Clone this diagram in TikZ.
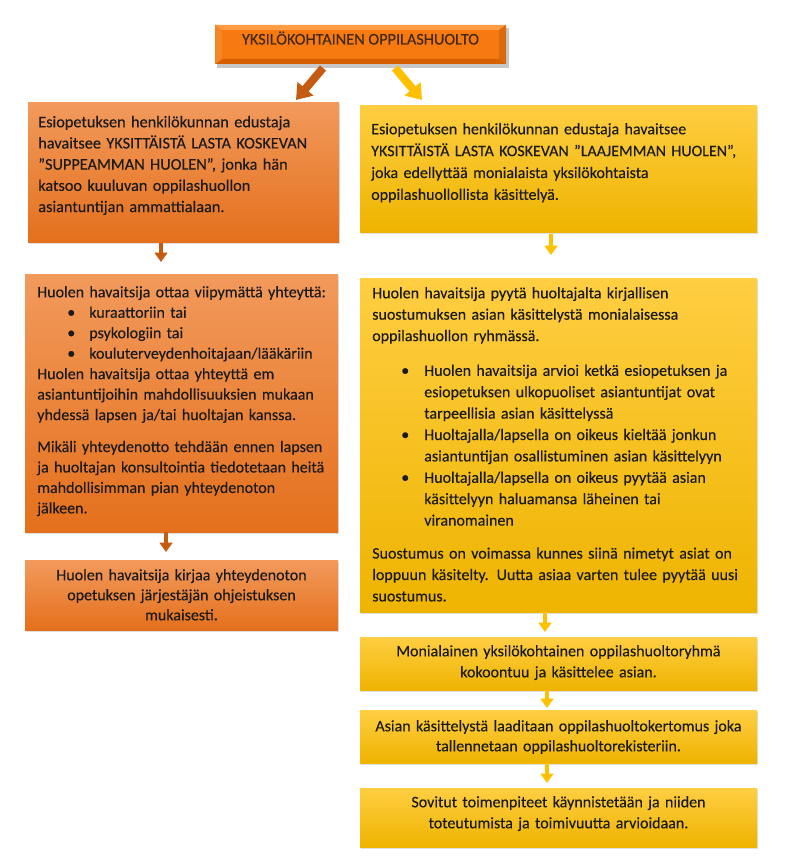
\documentclass[tikz,border=0pt]{standalone}
\usepackage{fontspec}
\setmainfont{Carlito}[FakeBold=0.2]
\usetikzlibrary{arrows.meta,calc,shadows}
\definecolor{orA}{HTML}{F29A5C}
\definecolor{orB}{HTML}{E4701C}
\definecolor{yeA}{HTML}{FFCE42}
\definecolor{yeB}{HTML}{EEB400}
\definecolor{arrO}{HTML}{C55A11}
\definecolor{arrY}{HTML}{FFC000}
\definecolor{topM}{HTML}{F77A10}
\definecolor{topL}{HTML}{FF9C45}
\definecolor{topD}{HTML}{D85F00}
\definecolor{txt}{HTML}{1A1A1A}
\newcommand{\fst}{\rule{0pt}{10.5pt}}
\newcommand{\bul}{\hspace*{22.5pt}\makebox[16.5pt][l]{\raisebox{0.2pt}{\large•}}}
\newcommand{\bulr}{\hspace*{21.75pt}\makebox[17.25pt][l]{\raisebox{0.2pt}{\large•}}}
\newcommand{\cnt}{\hspace*{39pt}}
\tikzset{
  box/.style={draw=none, inner sep=0pt, outer sep=0pt, anchor=north west,
    drop shadow={shadow xshift=1pt, shadow yshift=-1.2pt, opacity=0.25}},
  obox/.style={box, top color=orA, bottom color=orB},
  ybox/.style={box, top color=yeA, bottom color=yeB},
  txtl/.style={inner sep=0pt, anchor=north west, align=left, text=txt,
    font=\fontsize{12pt}{15.6pt}\selectfont},
  txtc/.style={inner sep=0pt, anchor=north, align=center, text=txt,
    font=\fontsize{12pt}{15.4pt}\selectfont},
  darrO/.style={draw=arrO, line width=3pt, -{Triangle[width=9.5pt,length=7pt]}},
  darrY/.style={draw=arrY, line width=3pt, -{Triangle[width=9.5pt,length=7pt]}},
  diagO/.style={draw=arrO, line width=6pt, -{Triangle[width=15pt,length=11pt]}},
  diagY/.style={draw=arrY, line width=6pt, -{Triangle[width=15pt,length=11pt]}}
}
\begin{document}
\begin{tikzpicture}[x=0.75pt,y=-0.75pt]
\useasboundingbox[fill=white] (0,0) rectangle (798,867);

% top box with bevel
\fill[black, opacity=0.22] (217,28) rectangle (509,68);
\node[draw=none, inner sep=0pt, outer sep=0pt, anchor=north west, fill=topM,
  minimum width=291*0.75pt, minimum height=39*0.75pt] (T) at (215,25) {};
\fill[topL] (T.north west) -- (T.north east) -- ($(T.north east)+(-7,5)$) -- ($(T.north west)+(7,5)$) -- cycle;
\fill[topD] (T.south west) -- (T.south east) -- ($(T.south east)+(-7,-5)$) -- ($(T.south west)+(7,-5)$) -- cycle;
\fill[topM!92!white] (T.north west) -- ($(T.north west)+(7,5)$) -- ($(T.south west)+(7,-5)$) -- (T.south west) -- cycle;
\fill[topM!88!black] (T.north east) -- ($(T.north east)+(-7,5)$) -- ($(T.south east)+(-7,-5)$) -- (T.south east) -- cycle;
\node[inner sep=0pt, anchor=base, text=txt!80!topD, font=\fontsize{12.2pt}{13pt}\selectfont] (Tt) at (360.5,44.5) {YKSILÖKOHTAINEN OPPILASHUOLTO};

% left column
\node[obox, minimum width=311*0.75pt, minimum height=140*0.75pt] (L1) at (28,102) {};
\node[obox, minimum width=313*0.75pt, minimum height=258*0.75pt] (L2) at (25,274) {};
\node[obox, minimum width=313*0.75pt, minimum height=70*0.75pt] (L3) at (25,560) {};

% right column
\node[ybox, minimum width=397*0.75pt, minimum height=127*0.75pt] (R1) at (360,105) {};
\node[ybox, minimum width=397*0.75pt, minimum height=334*0.75pt] (R2) at (360,278) {};
\node[ybox, minimum width=397*0.75pt, minimum height=53*0.75pt] (R3) at (360,637) {};
\node[ybox, minimum width=397*0.75pt, minimum height=53*0.75pt] (R4) at (360,710) {};
\node[ybox, minimum width=397*0.75pt, minimum height=59*0.75pt] (R5) at (360,788) {};

% texts
\node[txtl, text width=300*0.75pt, font=\fontsize{12.2pt}{15.9pt}\selectfont] (L1t) at (38,113) {\fst Esiopetuksen henkilökunnan edustaja\\
havaitsee YKSITTÄISTÄ LASTA KOSKEVAN\\
”SUPPEAMMAN HUOLEN”, jonka hän\\
katsoo kuuluvan oppilashuollon\\
asiantuntijan ammattialaan.};

\node[txtl, text width=300*0.75pt, font=\fontsize{12pt}{15.35pt}\selectfont] (L2t) at (37,283) {\fst Huolen havaitsija ottaa viipymättä yhteyttä:\\
\bul kuraattoriin tai\\
\bul psykologiin tai\\
\bul kouluterveydenhoitajaan/lääkäriin\\
Huolen havaitsija ottaa yhteyttä em\\
asiantuntijoihin mahdollisuuksien mukaan\\
yhdessä lapsen ja/tai huoltajan kanssa.\\[8.6pt]
Mikäli yhteydenotto tehdään ennen lapsen\\
ja huoltajan konsultointia tiedotetaan heitä\\
mahdollisimman pian yhteydenoton\\
jälkeen.};

\node[txtc, text width=305*0.75pt, font=\fontsize{12pt}{15pt}\selectfont] (L3t) at (181.5,566) {\fst Huolen havaitsija kirjaa yhteydenoton\\
opetuksen järjestäjän ohjeistuksen\\
mukaisesti.};

\node[txtl, text width=385*0.75pt, font=\fontsize{12pt}{16.4pt}\selectfont] (R1t) at (371,120) {\fst Esiopetuksen henkilökunnan edustaja havaitsee\\
YKSITTÄISTÄ LASTA KOSKEVAN ”LAAJEMMAN HUOLEN”,\\
joka edellyttää monialaista yksilökohtaista\\
oppilashuollollista käsittelyä.};

\node[txtl, text width=380*0.75pt, font=\fontsize{12pt}{16.05pt}\selectfont] (R2t) at (372,284) {\fst Huolen havaitsija pyytä huoltajalta kirjallisen\\
suostumuksen asian käsittelystä monialaisessa\\
oppilashuollon ryhmässä.\\[10pt]
\bulr Huolen havaitsija arvioi ketkä esiopetuksen ja\\
\cnt esiopetuksen ulkopuoliset asiantuntijat ovat\\
\cnt tarpeellisia asian käsittelyssä\\
\bulr Huoltajalla/lapsella on oikeus kieltää jonkun\\
\cnt asiantuntijan osallistuminen asian käsittelyyn\\
\bulr Huoltajalla/lapsella on oikeus pyytää asian\\
\cnt käsittelyyn haluamansa läheinen tai\\
\cnt viranomainen\\[8.7pt]
\makebox[279pt][s]{Suostumus on voimassa kunnes siinä nimetyt asiat on}\\
\makebox[279pt][s]{loppuun käsitelty. Uutta asiaa varten tulee pyytää uusi}\\
suostumus.};

\node[txtc, text width=390*0.75pt, font=\fontsize{12pt}{15.75pt}\selectfont] (R3t) at (558.5,642) {\fst Monialainen yksilökohtainen oppilashuoltoryhmä\\
kokoontuu ja käsittelee asian.};
\node[txtc, text width=390*0.75pt, font=\fontsize{12pt}{15pt}\selectfont] (R4t) at (558.5,717) {\fst Asian käsittelystä laaditaan oppilashuoltokertomus joka\\
tallennetaan oppilashuoltorekisteriin.};
\node[txtc, text width=390*0.75pt, font=\fontsize{12pt}{15.75pt}\selectfont] (R5t) at (558.5,793) {\fst Sovitut toimenpiteet käynnistetään ja niiden\\
toteutumista ja toimivuutta arvioidaan.};

% diagonal arrows from title
\coordinate (dOs) at ($(T.south west)+(108,4)$);
\coordinate (dOe) at ($(L1.north east)+(-43,-2)$);
\coordinate (dYs) at ($(T.south west)+(180,4)$);
\coordinate (dYe) at ($(R1.north west)+(62,-5)$);
\draw[diagO] (dOs) -- (dOe);
\draw[diagY] (dYs) -- (dYe);

% vertical arrows
\draw[darrO] ($(L1.south west)+(133,1)$) -- ($(L2.north west)+(136,-12)$);
\draw[darrO] ($(L2.south west)+(141,0)$) -- ($(L3.north west)+(141,-8)$);
\draw[darrY] ($(R1.south west)+(191,2)$) -- ($(R2.north west)+(191,-23)$);
\draw[darrY] ($(R2.south west)+(185,0)$) -- ($(R3.north west)+(185,-5)$);
\draw[darrY] ($(R3.south west)+(187,0)$) -- ($(R4.north west)+(187,-2)$);
\draw[darrY] ($(R4.south west)+(187,0)$) -- ($(R5.north west)+(187,-5)$);
\end{tikzpicture}
\end{document}
